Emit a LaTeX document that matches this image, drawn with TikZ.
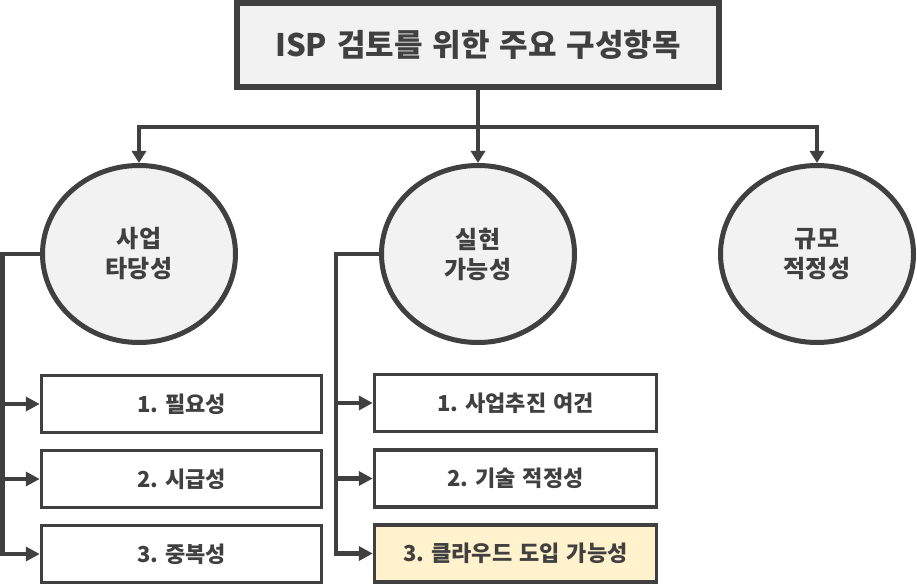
\documentclass[tikz,border=0pt]{standalone}
\usepackage{fontspec}
\setmainfont{Noto Sans CJK KR}[WordSpace=1.4]
\frenchspacing
\usetikzlibrary{shapes.geometric,arrows.meta}
\definecolor{dk}{HTML}{404040}
\definecolor{lg}{HTML}{F2F2F2}
\definecolor{yl}{HTML}{FFF2CC}
\tikzset{
  titlebox/.style={draw=dk,fill=lg,line width=6pt,minimum width=482pt,minimum height=84pt,inner sep=0pt,font=\fontsize{31}{36}\selectfont\bfseries,text=dk},
  cat/.style={ellipse,draw=dk,fill=lg,line width=5pt,minimum width=193pt,minimum height=177pt,inner sep=0pt,align=center,font=\fontsize{24}{30}\selectfont\bfseries,text=dk},
  item/.style={draw=dk,fill=white,line width=3.5pt,minimum height=57pt,inner sep=0pt,font=\fontsize{22}{26}\selectfont\bfseries,text=dk},
  conn/.style={draw=dk,line width=4.5pt},
  arr/.style={conn,-{Triangle[length=12pt,width=14pt]}},
  sarr/.style={conn,-{Triangle[length=14pt,width=14pt]}}
}
\begin{document}
\begin{tikzpicture}[x=1pt,y=-1pt]
\useasboundingbox (0,0) rectangle (917,585);
\node[titlebox] (top) at (478,45) {ISP 검토를 위한 주요 구성항목};
\node[cat] (c1) at (139,254) {사업\\타당성};
\node[cat] (c2) at (478,254) {실현\\가능성};
\node[cat] (c3) at (817,254) {규모\\적정성};
\node[item,minimum width=280pt] (a1) at (181.5,404) {1. 필요성};
\node[item,minimum width=280pt] (a2) at (181.5,479) {2. 시급성};
\node[item,minimum width=280pt] (a3) at (181.5,554) {3. 중복성};
\node[item,minimum width=282pt] (b1) at (515.5,403) {1. 사업추진 여건};
\node[item,minimum width=282pt] (b2) at (515.5,478.5) {2. 기술 적정성};
\node[item,minimum width=282pt,fill=yl] (b3) at (515.5,553.5) {3. 클라우드 도입 가능성};
\coordinate (hl) at (139,127);
\coordinate (hr) at (817,127);
\draw[arr] (top.south) -- (c2.north);
\draw[conn,line cap=rect] (hl) -- (hr);
\draw[arr] (hl) -- (c1.north);
\draw[arr] (hr) -- (c3.north);
\coordinate (lv) at (2.5,0);
\coordinate (mv) at (336,0);
\draw[sarr] (c1.west) -| (lv |- a3.west) -- (a3.west);
\draw[sarr] (lv |- a1.west) -- (a1.west);
\draw[sarr] (lv |- a2.west) -- (a2.west);
\draw[sarr] (c2.west) -| (mv |- b3.west) -- (b3.west);
\draw[sarr] (mv |- b1.west) -- (b1.west);
\draw[sarr] (mv |- b2.west) -- (b2.west);
\end{tikzpicture}
\end{document}
